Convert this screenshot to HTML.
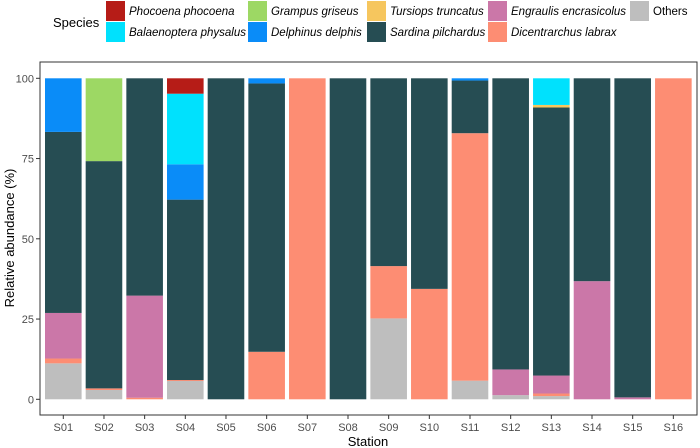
<!DOCTYPE html>
<html><head><meta charset="utf-8"><style>
body{margin:0;background:#fff;}
svg{display:block;font-family:"Liberation Sans",Arial,sans-serif;}
</style></head><body>
<svg id="chart" width="700" height="448" viewBox="0 0 700 448">
<rect x="40" y="62" width="657" height="353" fill="#fff" stroke="#333" stroke-width="1"/>
<g id="bars"></g>
<g id="yaxis"></g>
<g id="xaxis"></g>
<text x="14" y="238" transform="rotate(-90 14 238)" text-anchor="middle" font-size="13" fill="#000">Relative abundance (%)</text>
<text x="368" y="446" text-anchor="middle" font-size="13" fill="#000">Station</text>
<g id="legend">
<text x="53" y="27" font-size="13" fill="#000">Species</text>
</g>
</svg>
<script>
const stations = ["S01","S02","S03","S04","S05","S06","S07","S08","S09","S10","S11","S12","S13","S14","S15","S16"];
const species = ["Others","Dicentrarchus labrax","Engraulis encrasicolus","Sardina pilchardus","Tursiops truncatus","Delphinus delphis","Grampus griseus","Balaenoptera physalus","Phocoena phocoena"];
const colors = ["#bebebe","#fd8d73","#cb77a8","#264d53","#f6c65e","#0a8cf8","#9dd864","#00e1fd","#b61c17"];
const others       = [11.2,2.9,0,5.7,0,0,0,0,25.2,0,5.8,1.3,1.0,0,0,0];
const dicentrarchus= [1.5,0.5,0.5,0.3,0,14.8,100,0,16.3,34.4,77.1,0,0.8,0,0,100];
const engraulis    = [14.2,0,31.8,0,0,0,0,0,0,0,0,8.0,5.6,36.8,0.6,0];
const sardina      = [56.4,70.8,67.7,56.2,100,83.6,0,100,58.5,65.6,16.4,90.7,83.5,63.2,99.4,0];
const tursiops     = [0,0,0,0,0,0,0,0,0,0,0,0,0.8,0,0,0];
const delphinus    = [16.7,0,0,11.0,0,1.6,0,0,0,0,0.7,0,0,0,0,0];
const grampus      = [0,25.8,0,0,0,0,0,0,0,0,0,0,0,0,0,0];
const balaenoptera = [0,0,0,22.0,0,0,0,0,0,0,0,0,8.3,0,0,0];
const phocoena     = [0,0,0,4.8,0,0,0,0,0,0,0,0,0,0,0,0];
const yTicks = [0,25,50,75,100];
const series = [others,dicentrarchus,engraulis,sardina,tursiops,delphinus,grampus,balaenoptera,phocoena];
const NS="http://www.w3.org/2000/svg";
const x0=45, pitch=40.67, bw=36.6;
const yScale=v=>399.3-v*3.21;
const xScale=i=>x0+i*pitch;
const bars=document.getElementById('bars');
stations.forEach((s,i)=>{
  let cum=0;
  series.forEach((arr,k)=>{
    const v=arr[i]; if(v<=0) return;
    const r=document.createElementNS(NS,'rect');
    r.setAttribute('x',xScale(i)); r.setAttribute('width',bw);
    r.setAttribute('y',yScale(cum+v)); r.setAttribute('height',yScale(cum)-yScale(cum+v));
    r.setAttribute('fill',colors[k]);
    
    
    bars.appendChild(r); cum+=v;
  });
});
const ya=document.getElementById('yaxis');
yTicks.forEach(t=>{
  const l=document.createElementNS(NS,'line');
  l.setAttribute('x1',36);l.setAttribute('x2',40);l.setAttribute('y1',yScale(t));l.setAttribute('y2',yScale(t));l.setAttribute('stroke','#333');
  
  
  ya.appendChild(l);
  const tx=document.createElementNS(NS,'text');
  tx.setAttribute('x',34);tx.setAttribute('y',yScale(t)+4);tx.setAttribute('text-anchor','end');tx.setAttribute('font-size','11');tx.setAttribute('fill','#4d4d4d');
  tx.textContent=t;
  
  
  ya.appendChild(tx);
});
const xa=document.getElementById('xaxis');
stations.forEach((s,i)=>{
  const c=xScale(i)+bw/2;
  const l=document.createElementNS(NS,'line');
  l.setAttribute('x1',c);l.setAttribute('x2',c);l.setAttribute('y1',415);l.setAttribute('y2',419);l.setAttribute('stroke','#333');
  
  
  xa.appendChild(l);
  const tx=document.createElementNS(NS,'text');
  tx.setAttribute('x',c);tx.setAttribute('y',431);tx.setAttribute('text-anchor','middle');tx.setAttribute('font-size','11');tx.setAttribute('fill','#4d4d4d');
  tx.textContent=s;
  
  
  xa.appendChild(tx);
});
const legendItems=[
 ["Phocoena phocoena",8,106,1,true],["Balaenoptera physalus",7,106,22,true],
 ["Grampus griseus",6,248,1,true],["Delphinus delphis",5,248,22,true],
 ["Tursiops truncatus",4,367,1,true],["Sardina pilchardus",3,367,22,true],
 ["Engraulis encrasicolus",2,488,1,true],["Dicentrarchus labrax",1,488,22,true],
 ["Others",0,630,1,false]];
const lg=document.getElementById('legend');
legendItems.forEach(([name,k,x,y,it])=>{
  const r=document.createElementNS(NS,'rect');
  r.setAttribute('x',x);r.setAttribute('y',y);r.setAttribute('width',19);r.setAttribute('height',20);r.setAttribute('fill',colors[k]);
  
  
  lg.appendChild(r);
  const t=document.createElementNS(NS,'text');
  t.setAttribute('x',x+23);t.setAttribute('y',y+14);t.setAttribute('font-size','11.5');
  if(it) t.setAttribute('font-style','italic');
  t.textContent=name;
  
  
  lg.appendChild(t);
});
</script>
</body></html>
